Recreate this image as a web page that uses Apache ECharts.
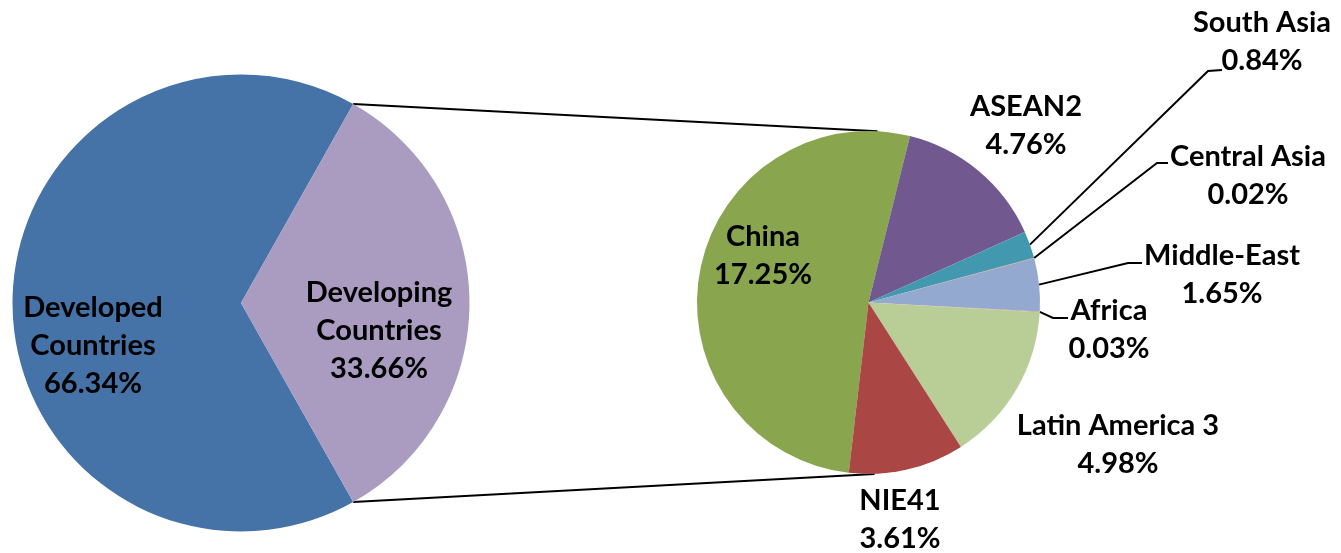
<!DOCTYPE html>
<html>
<head>
<meta charset="utf-8">
<title>Export shares by region</title>
<script src="https://cdn.jsdelivr.net/npm/echarts@6/dist/echarts.min.js"></script>
<style>
  html, body { margin: 0; padding: 0; background: #ffffff; }
  #chart { width: 1341px; height: 553px; }
</style>
</head>
<body>
<div id="chart"></div>
<script>
// Top-level split (percent of total)
const mainCategories = ['Developed Countries', 'Developing Countries'];
const mainLabels = ['Developed\nCountries', 'Developing\nCountries'];
const mainValues = [66.34, 33.66];

// Breakdown of the developing group (percent of total)
const subCategories = ['China', 'ASEAN2', 'South Asia', 'Central Asia', 'Middle-East', 'Africa', 'Latin America 3', 'NIE41'];
const subValues = [17.25, 4.76, 0.84, 0.02, 1.65, 0.03, 4.98, 3.61];

// Palette
const mainColors = ['#4572A7', '#AA9BC0'];
const subColors = ['#89A54E', '#71588F', '#4198AF', '#DB843D', '#93A9CF', '#D19392', '#B9CD96', '#AA4643'];

// Geometry of the two pies (px)
const LEFT = { cx: 241, cy: 303, r: 228.5 };
const RIGHT = { cx: 868.5, cy: 302.5, r: 171.5 };
// ECharts angle (deg, CCW from 3 o'clock) of the boundary after the first slice of the right pie
const subBreakAngle = 76;

// Label block centres and leader-line elbows
const mainLabelPos = [[93, 346], [379, 331]];
const subLabelPos = {
  'China': [763, 256],
  'ASEAN2': [1026, 126],
  'South Asia': [1262, 42],
  'Central Asia': [1248, 176],
  'Middle-East': [1222, 275],
  'Africa': [1109, 330],
  'Latin America 3': [1118, 445],
  'NIE41': [900, 520]
};
const subLeaders = {
  'South Asia': [[1208, 71], [1222, 70]],
  'Central Asia': [[1157, 163], [1168, 163]],
  'Middle-East': [[1128, 263], [1142, 263]],
  'Africa': [[1053, 318], [1068, 318]]
};

const sum = arr => arr.reduce((a, b) => a + b, 0);
const mainTotal = sum(mainValues);
const subTotal = sum(subValues);

const leftStart = -(mainValues[1] / mainTotal) * 180;
const rightStart = subBreakAngle + (subValues[0] / subTotal) * 360;

function polar(p, angDeg) {
  const a = angDeg * Math.PI / 180;
  return [p.cx + p.r * Math.cos(a), p.cy - p.r * Math.sin(a)];
}

// Mid-angle (ECharts degrees) of each slice of the right pie
const subMid = [];
(function () {
  let cum = 0;
  subValues.forEach(v => {
    subMid.push(rightStart - (cum + v / 2) / subTotal * 360);
    cum += v;
  });
})();

const labelFont = {
  fontFamily: 'Lato, "Open Sans", sans-serif',
  fontWeight: 'bold',
  fontSize: 29,
  lineHeight: 38,
  color: '#000000'
};

const chart = echarts.init(document.getElementById('chart'), null, { renderer: 'canvas' });

// Connectors between the developing slice and the breakdown pie
const halfDev = (mainValues[1] / mainTotal) * 180;
const topA = polar(LEFT, halfDev);
const botA = polar(LEFT, -halfDev);
const topB = polar(RIGHT, 90 - 3);
const botB = polar(RIGHT, 90 - 178);

const option = {
  animation: false,
  backgroundColor: '#ffffff',
  graphic: [
    { type: 'line', z: 0, shape: { x1: topA[0], y1: topA[1], x2: topB[0], y2: topB[1] }, style: { stroke: '#000', lineWidth: 2 } },
    { type: 'line', z: 0, shape: { x1: botA[0], y1: botA[1], x2: botB[0], y2: botB[1] }, style: { stroke: '#000', lineWidth: 2 } }
  ],
  series: [
    {
      type: 'pie',
      z: 2,
      center: [LEFT.cx, LEFT.cy],
      radius: LEFT.r,
      startAngle: leftStart,
      clockwise: true,
      avoidLabelOverlap: false,
      silent: true,
      itemStyle: { borderWidth: 0 },
      label: Object.assign({
        show: true,
        position: 'inside',
        formatter: p => mainLabels[p.dataIndex] + '\n' + p.value.toFixed(2) + '%'
      }, labelFont),
      labelLine: { show: false },
      labelLayout: p => ({
        x: mainLabelPos[p.dataIndex][0],
        y: mainLabelPos[p.dataIndex][1],
        align: 'center',
        verticalAlign: 'middle'
      }),
      data: mainCategories.map((name, i) => ({
        name, value: mainValues[i], itemStyle: { color: mainColors[i] }
      }))
    },
    {
      type: 'pie',
      z: 2,
      center: [RIGHT.cx, RIGHT.cy],
      radius: RIGHT.r,
      startAngle: rightStart,
      clockwise: true,
      minAngle: 0,
      avoidLabelOverlap: false,
      silent: true,
      itemStyle: { borderWidth: 0 },
      label: Object.assign({
        show: true,
        position: 'outside',
        formatter: p => p.name + '\n' + p.value.toFixed(2) + '%'
      }, labelFont),
      labelLine: { show: true, lineStyle: { color: '#000', width: 2 } },
      labelLayout: p => {
        const name = subCategories[p.dataIndex];
        const pos = subLabelPos[name];
        const out = { x: pos[0], y: pos[1], align: 'center', verticalAlign: 'middle' };
        if (subLeaders[name]) {
          const start = polar(RIGHT, subMid[p.dataIndex]);
          out.labelLinePoints = [start, subLeaders[name][0], subLeaders[name][1]];
        }
        return out;
      },
      data: subCategories.map((name, i) => ({
        name,
        value: subValues[i],
        itemStyle: { color: subColors[i] },
        label: { position: i === 0 ? 'inside' : 'outside' },
        labelLine: { show: !!subLeaders[name] }
      }))
    }
  ]
};

chart.setOption(option);
</script>
</body>
</html>
